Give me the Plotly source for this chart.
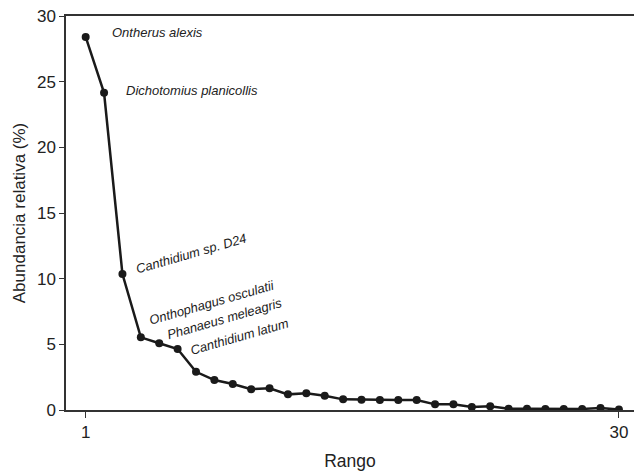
import plotly.graph_objects as go

# Rank–abundance data for dung beetle species
rango = list(range(1, 31))
abundancia = [28.41, 24.15, 10.35, 5.53, 5.08, 4.64, 2.91, 2.28, 1.98, 1.58,
              1.65, 1.19, 1.27, 1.09, 0.81, 0.78, 0.76, 0.76, 0.76, 0.43,
              0.43, 0.23, 0.28, 0.10, 0.10, 0.08, 0.08, 0.08, 0.15, 0.03]

x_ticks = [1, 30]
y_ticks = [0, 5, 10, 15, 20, 25, 30]

FONT = "Liberation Sans, Arial, sans-serif"
INK = "#1a1a1a"

fig = go.Figure()
fig.add_trace(go.Scatter(
    x=rango, y=abundancia, mode="lines+markers",
    line=dict(color=INK, width=2.5),
    marker=dict(color=INK, size=8),
    showlegend=False,
))

# Species labels
labels = [
    dict(text="Ontherus alexis", x=2.32, y=28.77, angle=0, xanchor="left"),
    dict(text="Dichotomius planicollis", x=3.1, y=24.35, angle=0, xanchor="left"),
    dict(text="Canthidium sp. D24", x=6.73, y=11.95, angle=-16, xanchor="center"),
    dict(text="Onthophagus osculatii", x=7.87, y=8.2, angle=-16, xanchor="center"),
    dict(text="Phanaeus meleagris", x=8.57, y=7.0, angle=-16, xanchor="center"),
    dict(text="Canthidium latum", x=9.39, y=5.56, angle=-16, xanchor="center"),
]
for lb in labels:
    fig.add_annotation(
        x=lb["x"], y=lb["y"], text="<i>" + lb["text"] + "</i>",
        showarrow=False, textangle=lb["angle"], xanchor=lb["xanchor"],
        yanchor="middle", font=dict(family=FONT, size=13, color="#222"),
    )

fig.update_layout(
    width=634, height=474,
    margin=dict(l=66, r=0, t=16, b=64),
    plot_bgcolor="white", paper_bgcolor="white",
    font=dict(family=FONT, size=17, color="#222"),
    xaxis=dict(
        range=[-0.07, 30.82], tickvals=x_ticks, ticktext=[str(v) for v in x_ticks],
        showgrid=False, zeroline=False, showline=True, linecolor="#333",
        linewidth=1.5, mirror=True, ticks="outside", ticklen=6, tickcolor="#333",
        title=dict(text="Rango", standoff=14, font=dict(size=17.5)),
    ),
    yaxis=dict(
        range=[0, 30], tickvals=y_ticks,
        showgrid=False, zeroline=False, showline=True, linecolor="#333",
        linewidth=1.5, ticks="outside", ticklen=5, tickcolor="#333",
        title=dict(text="Abundancia relativa (%)", standoff=7, font=dict(size=17)),
    ),
)

fig.write_html("out.html")
